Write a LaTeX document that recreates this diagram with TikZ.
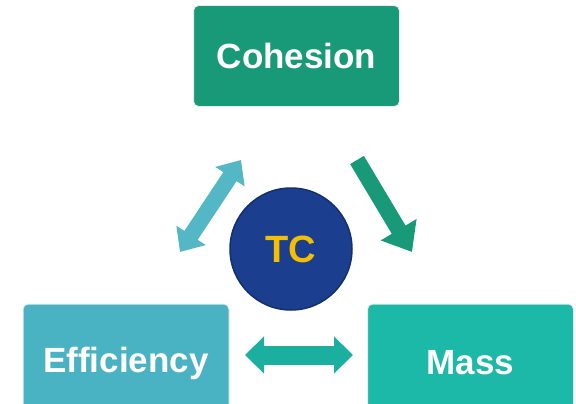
\documentclass[tikz,border=0pt]{standalone}
\usepackage{fontspec}
\setmainfont{Liberation Sans}
\usetikzlibrary{arrows.meta}
\definecolor{cohgreen}{HTML}{189A78}
\definecolor{effblue}{HTML}{4AB3C3}
\definecolor{massteal}{HTML}{1CB8A8}
\definecolor{tcblue}{HTML}{1B3F8E}
\definecolor{tcdark}{HTML}{13306E}
\definecolor{tcgold}{HTML}{F5BF00}
\begin{document}
\begin{tikzpicture}[x=1pt,y=-1pt,
		box/.style={rounded corners=5pt,draw=black!8,line width=1pt,minimum width=206pt,
			text=white,font=\fontsize{35}{40}\bfseries\selectfont},
		blk/.style={line width=16pt}]
		\clip (0,0) rectangle (576,404);
		\node[box,fill=cohgreen,minimum height=101pt] (coh) at (296.5,56) {Cohesion};
		\node[box,fill=effblue,minimum height=118pt] (eff) at (126,363) {Efficiency};
		\node[box,fill=massteal,minimum height=118pt] (mass) at (470.5,363) {Mass};
		\node[circle,fill=tcblue,draw=tcdark,line width=1.5pt,minimum size=122pt,inner sep=0pt,
			text=tcgold,font=\fontsize{38}{40}\bfseries\selectfont] (tc) at (291,249) {TC};
		% arrows between the boxes
		\coordinate (effup) at (180,252);
		\coordinate (cohdown) at (241,160);
		\coordinate (cohtail) at (357,160);
		\coordinate (masstip) at (412,252);
		\coordinate (effright) at (245,355);
		\coordinate (massleft) at (353,355);
		\draw[blk,effblue!95!white,{Triangle[width=34pt,length=20pt]}-{Triangle[width=34pt,length=20pt]}]
			(effup) -- (cohdown);
		\draw[blk,cohgreen,-{Triangle[width=40pt,length=26pt]}] (cohtail) -- (masstip);
		\draw[blk,line width=19pt,massteal!95!black,{Triangle[width=36pt,length=19pt]}-{Triangle[width=36pt,length=19pt]}]
			(effright) -- (massleft);
	\end{tikzpicture}
\end{document}
